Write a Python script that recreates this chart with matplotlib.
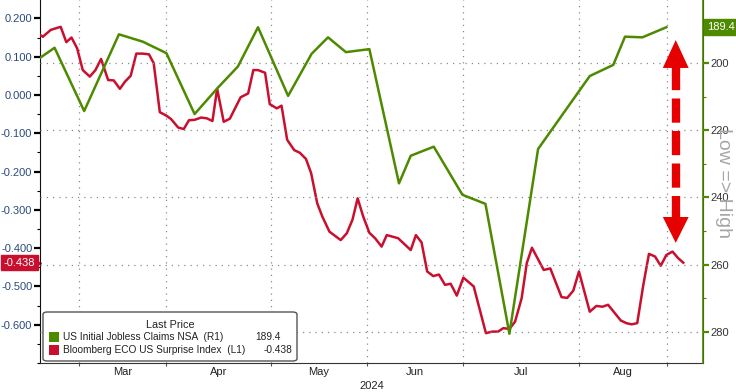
import matplotlib
matplotlib.use("Agg")
import matplotlib.pyplot as plt
import matplotlib.ticker as tick
from matplotlib.patches import FancyBboxPatch, Rectangle

# x positions are observation sessions (Bloomberg spaces the axis by observation, not calendar)
surprise_x = [0, 0.6, 2.3, 4.4, 5.6, 6.7, 7.9, 9.1, 10.6, 11.8, 13.0, 14.5, 15.7, 17.0, 18.1,
              19.3, 20.5, 21.9, 23.2, 24.2, 25.5, 26.9, 27.9, 29.4, 30.6, 31.7, 32.9, 34.3,
              35.5, 36.7, 37.7, 39.1, 40.4, 42.7, 44.3, 45.4, 46.4, 47.9, 48.9, 50.4, 51.4,
              52.6, 54.1, 55.3, 56.6, 57.7, 59.0, 60.1, 61.6, 64.0, 65.3, 66.5, 67.6, 68.8,
              70.1, 71.3, 72.7, 73.8, 76.2, 78.9, 80.0, 81.2, 82.4, 83.7, 84.9, 86.2, 87.4,
              88.7, 90.1, 92.3, 94.9, 96.3, 97.5, 98.6, 99.9, 101.1, 102.5, 103.6, 104.7,
              107.2, 108.6, 111.0, 112.2, 113.5, 114.7, 117.0, 118.4, 119.7, 120.9, 123.6,
              124.8, 125.9, 127.1, 128.4, 129.6, 130.9, 132.1, 133.3, 134.6, 135.8, 136.9]
surprise_y = [0.157, 0.152, 0.170, 0.178, 0.138, 0.150, 0.122, 0.065, 0.048, 0.065, 0.094,
              0.039, 0.038, 0.016, 0.035, 0.050, 0.108, 0.108, 0.106, 0.083, -0.045, -0.054,
              -0.063, -0.085, -0.089, -0.066, -0.065, -0.059, -0.061, -0.068, 0.016, -0.070,
              -0.062, -0.006, 0.004, 0.065, 0.065, 0.058, -0.024, -0.035, -0.028, -0.117,
              -0.144, -0.151, -0.167, -0.204, -0.283, -0.318, -0.357, -0.379, -0.361, -0.326,
              -0.270, -0.318, -0.360, -0.374, -0.396, -0.366, -0.374, -0.405, -0.366, -0.385,
              -0.461, -0.473, -0.469, -0.496, -0.493, -0.524, -0.477, -0.500, -0.622, -0.618,
              -0.618, -0.609, -0.611, -0.592, -0.531, -0.439, -0.399, -0.457, -0.453, -0.528,
              -0.530, -0.511, -0.461, -0.566, -0.551, -0.553, -0.548, -0.589, -0.596, -0.599,
              -0.596, -0.496, -0.415, -0.422, -0.446, -0.418, -0.409, -0.426, -0.438]

claims_x = [0, 3.1, 9.4, 16.8, 21.9, 26.9, 32.9, 37.9, 42.1, 46.4, 52.8, 57.8, 61.3, 65.1,
            70.1, 76.4, 78.9, 83.8, 89.9, 94.8, 99.9, 106.0, 117.0, 122.0, 124.5, 128.2, 133.3]
claims_y = [198.5, 195.5, 214.3, 191.5, 193.7, 197.1, 215.2, 207.3, 201.1, 189.4, 209.8,
            197.3, 192.4, 196.8, 195.9, 235.8, 227.6, 224.9, 239.2, 241.9, 280.5, 225.6,
            203.9, 200.6, 192.2, 192.4, 189.4]

month_starts = [8.3, 26.8, 49.1, 69.6, 90.0, 114.7, 133.4]
month_labels = ["Mar", "Apr", "May", "Jun", "Jul", "Aug"]

GREEN = "#4e8a00"
RED = "#c8102e"
ARROW_RED = "#e60000"

plt.rcParams["font.family"] = ["Liberation Sans", "DejaVu Sans"]

fig = plt.figure(figsize=(7.36, 3.92), dpi=100)
W, H = 736, 392
ax = fig.add_axes([40 / W, 29 / H, 663 / W, 363 / H])
ax2 = ax.twinx()

ax.plot(surprise_x, surprise_y, color=RED, lw=1.8, solid_joinstyle="round", zorder=3)
ax2.plot(claims_x, claims_y, color=GREEN, lw=1.8, solid_joinstyle="round", zorder=3)

ax.set_xlim(0, 141.1)
ax.set_ylim(-0.70, 0.248)
ax2.set_ylim(289.2, 181.3)

# left axis
ax.yaxis.set_major_locator(tick.FixedLocator([-0.6, -0.5, -0.4, -0.3, -0.2, -0.1, 0.0, 0.1, 0.2]))
ax.yaxis.set_minor_locator(tick.MultipleLocator(0.05))
ax.yaxis.set_major_formatter(tick.FuncFormatter(lambda v, _: f"{v:.3f}"))
ax.tick_params(axis="y", which="major", length=4, width=1.6, color="black",
               labelsize=8, labelcolor="#2b4a7a", pad=1.5)
ax.tick_params(axis="y", which="minor", length=2.5, width=0.8, color="black")

# right axis
ax2.yaxis.set_major_locator(tick.FixedLocator([200, 220, 240, 260, 280]))
ax2.yaxis.set_minor_locator(tick.FixedLocator([210, 230, 250, 270]))
ax2.tick_params(axis="y", which="major", length=4, width=1.6, color=GREEN,
                labelsize=8, labelcolor="#333333", pad=1.5)
ax2.tick_params(axis="y", which="minor", length=2.5, width=0.8, color=GREEN)

# x axis: ticks at month boundaries, labels mid-month
mids = [(a + b) / 2 for a, b in zip(month_starts[:-1], month_starts[1:])]
ax.xaxis.set_major_locator(tick.FixedLocator(month_starts))
ax.xaxis.set_major_formatter(tick.NullFormatter())
ax.xaxis.set_minor_locator(tick.FixedLocator(mids))
ax.xaxis.set_minor_formatter(tick.FixedFormatter(month_labels))
ax.tick_params(axis="x", which="major", length=2.5, width=0.8, color="#555555")
ax.tick_params(axis="x", which="minor", length=0, labelsize=8, labelcolor="#222222", pad=3)
ax.text(70.6, -0.062, "2024", transform=ax.get_xaxis_transform(), ha="center", va="center",
        fontsize=8, color="#222222")

ax.spines["top"].set_visible(False)
ax2.spines["top"].set_visible(False)
ax.spines["left"].set_color("#111111")
ax.spines["bottom"].set_color("#333333")
ax2.spines["right"].set_color(GREEN)
ax2.spines["right"].set_linewidth(1.2)
ax2.spines["left"].set_visible(False)
ax2.spines["bottom"].set_visible(False)

# dotted grid: verticals at month boundaries, horizontals on right axis
for x in month_starts:
    ax.axvline(x, color="#8c8c8c", lw=0.9, ls=(0, (1, 4)), zorder=1)
for y in [200, 220, 240, 260, 280]:
    ax2.axhline(y, color="#8c8c8c", lw=0.9, ls=(0, (1, 4)), zorder=1)

# last value tags
last_red = surprise_y[-1]
last_green = claims_y[-1]
ax.text(-0.031, last_red, f"{last_red:.3f}", transform=ax.get_yaxis_transform(),
        ha="center", va="center", fontsize=8, color="white", clip_on=False,
        bbox=dict(boxstyle="square,pad=0.25", fc=RED, ec=RED))
ax.plot([-0.004], [last_red], marker=">", ms=6, color=RED, transform=ax.get_yaxis_transform(),
        clip_on=False)
ax2.text(1.027, last_green, f"{last_green:.1f}", transform=ax2.get_yaxis_transform(),
         ha="center", va="center", fontsize=8, color="white", clip_on=False,
         bbox=dict(boxstyle="square,pad=0.25", fc=GREEN, ec=GREEN))
ax2.plot([1.005], [last_green], marker="<", ms=6, color=GREEN,
         transform=ax2.get_yaxis_transform(), clip_on=False)

# red dashed double arrow annotation
ax_x = 135.3
ax2.plot([ax_x, ax_x], [201.0, 246.3], color=ARROW_RED, lw=6, ls=(0, (2.9, 1.0)),
         dash_capstyle="butt", zorder=4)
ax2.fill([ax_x, ax_x - 2.75, ax_x + 2.75], [193.2, 201.5, 201.5], color=ARROW_RED, zorder=4, lw=0)
ax2.fill([ax_x, ax_x - 2.75, ax_x + 2.75], [253.5, 245.8, 245.8], color=ARROW_RED, zorder=4, lw=0)

ax2.text(1.031, 235.7, "Low => High", transform=ax2.get_yaxis_transform(), rotation=-90,
         ha="center", va="center", fontsize=14, color="#a6a6a6", clip_on=False)

# legend box
def fx(px):
    return px / W


def fy(py):
    return 1 - py / H


box = FancyBboxPatch((fx(43), fy(361)), fx(297) - fx(43), fy(312) - fy(361),
                     boxstyle="round,pad=0,rounding_size=0.006", transform=fig.transFigure,
                     fc="white", ec="#555555", lw=1.0, zorder=10)
fig.add_artist(box)
fig.text(fx(170), fy(325), "Last Price", ha="center", va="center", fontsize=7.8,
         color="#222222", zorder=11)
rows = [(GREEN, "US Initial Jobless Claims NSA  (R1)", f"{last_green:.1f}", 281, 337),
        (RED, "Bloomberg ECO US Surprise Index  (L1)", f"{last_red:.3f}", 292, 350)]
for color, label, value, vx, yy in rows:
    fig.add_artist(Rectangle((fx(49), fy(yy + 5)), fx(10), 10 / H, transform=fig.transFigure,
                             fc=color, ec="none", zorder=11))
    fig.text(fx(63), fy(yy), label, ha="left", va="center", fontsize=7.3, color="#222222",
             zorder=11)
    fig.text(fx(vx), fy(yy), value, ha="right", va="center", fontsize=7.3, color="#222222",
             zorder=11)

fig.savefig("out.png", dpi=100)
